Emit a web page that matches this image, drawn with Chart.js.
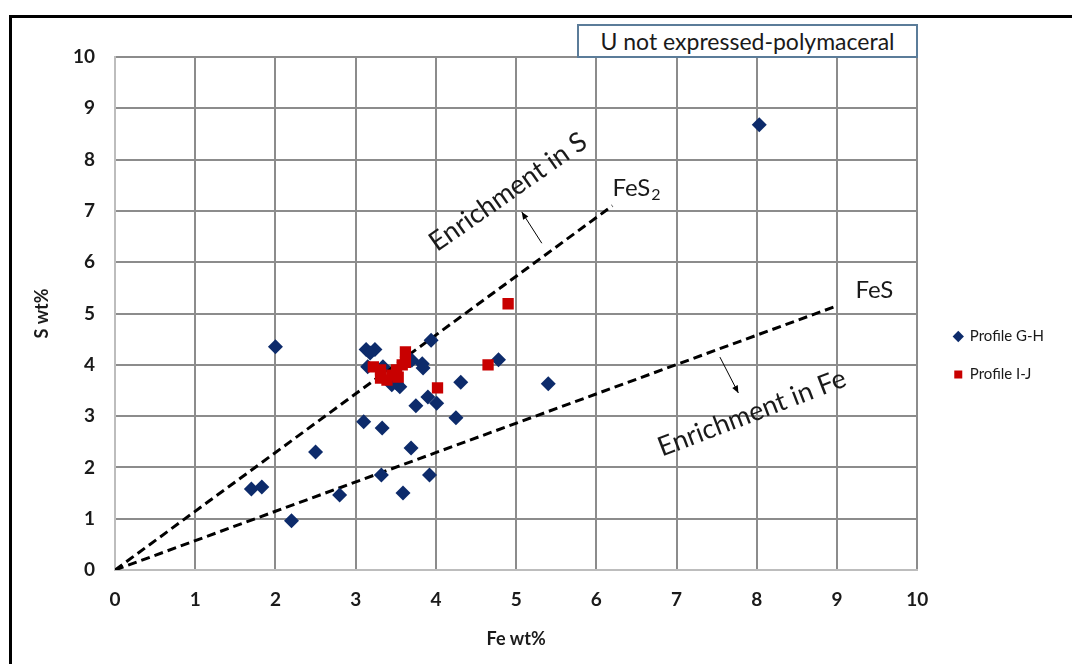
<!DOCTYPE html>
<html lang="en">
<head>
    <meta charset="UTF-8">
    <title>U not expressed-polymaceral</title>
    <style>
        body {
            margin: 0;
            background: #fff;
            font-family: Lato, sans-serif;
        }
        .frame {
            position: absolute;
            left: 9px;
            top: 15px;
            width: 1100px;
            height: 700px;
            border-left: 3px solid #000;
            border-top: 3px solid #000;
        }
        .wrap {
            position: absolute;
            left: 0;
            top: 0;
            width: 1072px;
            height: 664px;
        }
        .titlebox {
            position: absolute;
            left: 577px;
            top: 24px;
            width: 337px;
            height: 30px;
            border: 2px solid #5b7c99;
            background: #fff;
            font-size: 23px;
            line-height: 30px;
            text-align: center;
            color: #1a1a1a;
        }
    </style>
    <script src="https://cdn.jsdelivr.net/npm/chart.js"></script>
</head>
<body>
    <div class="frame"></div>
    <div class="wrap"><canvas id="c" width="1072" height="664"></canvas></div>
    <div class="titlebox">U not expressed-polymaceral</div>

    <script>
        // Profile G-H (Fe wt%, S wt%)
        const ghFe = [8.03, 2.00, 2.50, 1.70, 1.83, 2.20, 2.80, 5.40, 4.78, 4.31, 4.25, 4.01, 3.90, 3.75, 3.69,
                      3.13, 3.24, 3.18, 3.94, 3.15, 3.34, 3.70, 3.83, 3.84, 3.51, 3.55, 3.45, 3.10, 3.33, 3.32, 3.92, 3.59];
        const ghS  = [8.68, 4.35, 2.30, 1.58, 1.62, 0.96, 1.46, 3.63, 4.10, 3.66, 2.97, 3.25, 3.37, 3.20, 2.38,
                      4.30, 4.30, 4.23, 4.48, 3.96, 3.96, 4.09, 4.02, 3.94, 3.64, 3.57, 3.61, 2.89, 2.77, 1.85, 1.85, 1.50];

        // Profile I-J
        const ijFe = [4.90, 4.65, 4.02, 3.62, 3.22, 3.31, 3.31, 3.39, 3.45, 3.51, 3.58, 3.62, 3.53];
        const ijS  = [5.19, 4.00, 3.55, 4.25, 3.96, 3.90, 3.74, 3.70, 3.80, 3.90, 4.00, 4.05, 3.76];

        // reference lines through the origin
        const fes2Fe = [0, 6.2];
        const fes2S  = [0, 7.1];
        const fesFe  = [0, 9.0];
        const fesS   = [0, 5.15];

        const xTicks = [0, 1, 2, 3, 4, 5, 6, 7, 8, 9, 10];
        const yTicks = [0, 1, 2, 3, 4, 5, 6, 7, 8, 9, 10];

        const pts = (xs, ys) => xs.map((x, i) => ({ x: x, y: ys[i] }));

        // text notes and arrows, in data units
        const notes = [
            { text: 'Enrichment in S', x: 4.9, y: 7.37, angle: -35, size: 27 },
            { text: 'Enrichment in Fe', x: 7.94, y: 3.06, angle: -21, size: 27 }
        ];
        const arrows = [
            { from: [5.32, 6.37], to: [5.07, 6.98] },
            { from: [7.54, 4.15], to: [7.77, 3.45] }
        ];

        const notesPlugin = {
            id: 'notes',
            afterLayout(chart) {
                // nudge legend a little to the right of where layout puts it
                chart.legend.left += 14;
                chart.legend.right += 14;
            },
            afterDatasetsDraw(chart) {
                const ctx = chart.ctx;
                const xs = chart.scales.x, ys = chart.scales.y;
                ctx.save();
                ctx.fillStyle = '#1a1a1a';
                ctx.textAlign = 'center';
                ctx.textBaseline = 'middle';
                notes.forEach(n => {
                    ctx.save();
                    ctx.translate(xs.getPixelForValue(n.x), ys.getPixelForValue(n.y));
                    ctx.rotate(n.angle * Math.PI / 180);
                    ctx.font = n.size + 'px Lato';
                    ctx.fillText(n.text, 0, 0);
                    ctx.restore();
                });

                // FeS2 label with subscript
                ctx.textAlign = 'left';
                ctx.font = '24px Lato';
                let px = xs.getPixelForValue(6.2), py = ys.getPixelForValue(7.45);
                ctx.fillText('FeS', px, py);
                const w = ctx.measureText('FeS').width;
                ctx.font = '16px Lato';
                ctx.fillText('2', px + w + 1, py + 7);

                ctx.font = '24px Lato';
                ctx.fillText('FeS', xs.getPixelForValue(9.23), ys.getPixelForValue(5.45));

                // arrows
                ctx.strokeStyle = '#000';
                ctx.fillStyle = '#000';
                ctx.lineWidth = 1;
                arrows.forEach(a => {
                    const x0 = xs.getPixelForValue(a.from[0]), y0 = ys.getPixelForValue(a.from[1]);
                    const x1 = xs.getPixelForValue(a.to[0]), y1 = ys.getPixelForValue(a.to[1]);
                    const ang = Math.atan2(y1 - y0, x1 - x0);
                    ctx.beginPath();
                    ctx.moveTo(x0, y0);
                    ctx.lineTo(x1, y1);
                    ctx.stroke();
                    ctx.beginPath();
                    ctx.moveTo(x1, y1);
                    ctx.lineTo(x1 - 8 * Math.cos(ang - 0.4), y1 - 8 * Math.sin(ang - 0.4));
                    ctx.lineTo(x1 - 8 * Math.cos(ang + 0.4), y1 - 8 * Math.sin(ang + 0.4));
                    ctx.closePath();
                    ctx.fill();
                });
                ctx.restore();
            }
        };

        Chart.defaults.font.family = 'Lato';
        Chart.defaults.color = '#1a1a1a';

        new Chart(document.getElementById('c'), {
            type: 'scatter',
            data: {
                datasets: [
                    {
                        label: 'Profile G-H',
                        data: pts(ghFe, ghS),
                        pointStyle: 'rectRot',
                        pointRadius: 7.5,
                        backgroundColor: '#0d2b6b',
                        borderColor: '#0d2b6b',
                        borderWidth: 0,
                        order: 2
                    },
                    {
                        label: 'Profile I-J',
                        data: pts(ijFe, ijS),
                        pointStyle: 'rect',
                        pointRadius: 8,
                        backgroundColor: '#c80000',
                        borderColor: '#c80000',
                        borderWidth: 0,
                        order: 1
                    },
                    {
                        label: 'FeS2',
                        data: pts(fes2Fe, fes2S),
                        showLine: true,
                        borderColor: '#000',
                        borderWidth: 3,
                        borderDash: [9, 5],
                        pointRadius: 0,
                        order: 3
                    },
                    {
                        label: 'FeS',
                        data: pts(fesFe, fesS),
                        showLine: true,
                        borderColor: '#000',
                        borderWidth: 3,
                        borderDash: [9, 5],
                        pointRadius: 0,
                        order: 3
                    }
                ]
            },
            options: {
                responsive: false,
                animation: false,
                layout: { padding: { left: 27, top: 57, right: 32, bottom: 10 } },
                scales: {
                    x: {
                        type: 'linear',
                        min: 0, max: 10,
                        afterBuildTicks: s => { s.ticks = xTicks.map(v => ({ value: v })); },
                        afterFit: s => { s.height = 84; },
                        grid: { color: '#8c8c8c', lineWidth: 2, drawTicks: false },
                        border: { color: '#bdbdbd', width: 2 },
                        ticks: { padding: 18, font: { size: 19, weight: 'bold' }, color: '#1a1a1a' },
                        title: { display: true, text: 'Fe wt%', font: { size: 18, weight: 'bold' }, padding: { top: 2 } }
                    },
                    y: {
                        type: 'linear',
                        min: 0, max: 10,
                        afterBuildTicks: s => { s.ticks = yTicks.map(v => ({ value: v })); },
                        afterFit: s => { s.width = 88; },
                        grid: { color: '#8c8c8c', lineWidth: 2, drawTicks: false },
                        border: { color: '#bdbdbd', width: 2 },
                        ticks: { padding: 20, font: { size: 19, weight: 'bold' }, color: '#1a1a1a' },
                        title: { display: true, text: 'S wt%', font: { size: 18, weight: 'bold' } }
                    }
                },
                plugins: {
                    legend: {
                        position: 'right',
                        labels: {
                            usePointStyle: true,
                            boxWidth: 8,
                            boxHeight: 8,
                            padding: 23,
                            font: { size: 15 },
                            color: '#1a1a1a',
                            filter: item => item.datasetIndex < 2,
                            sort: (a, b) => a.datasetIndex - b.datasetIndex
                        }
                    },
                    tooltip: { enabled: false }
                }
            },
            plugins: [notesPlugin]
        });
    </script>
</body>
</html>
